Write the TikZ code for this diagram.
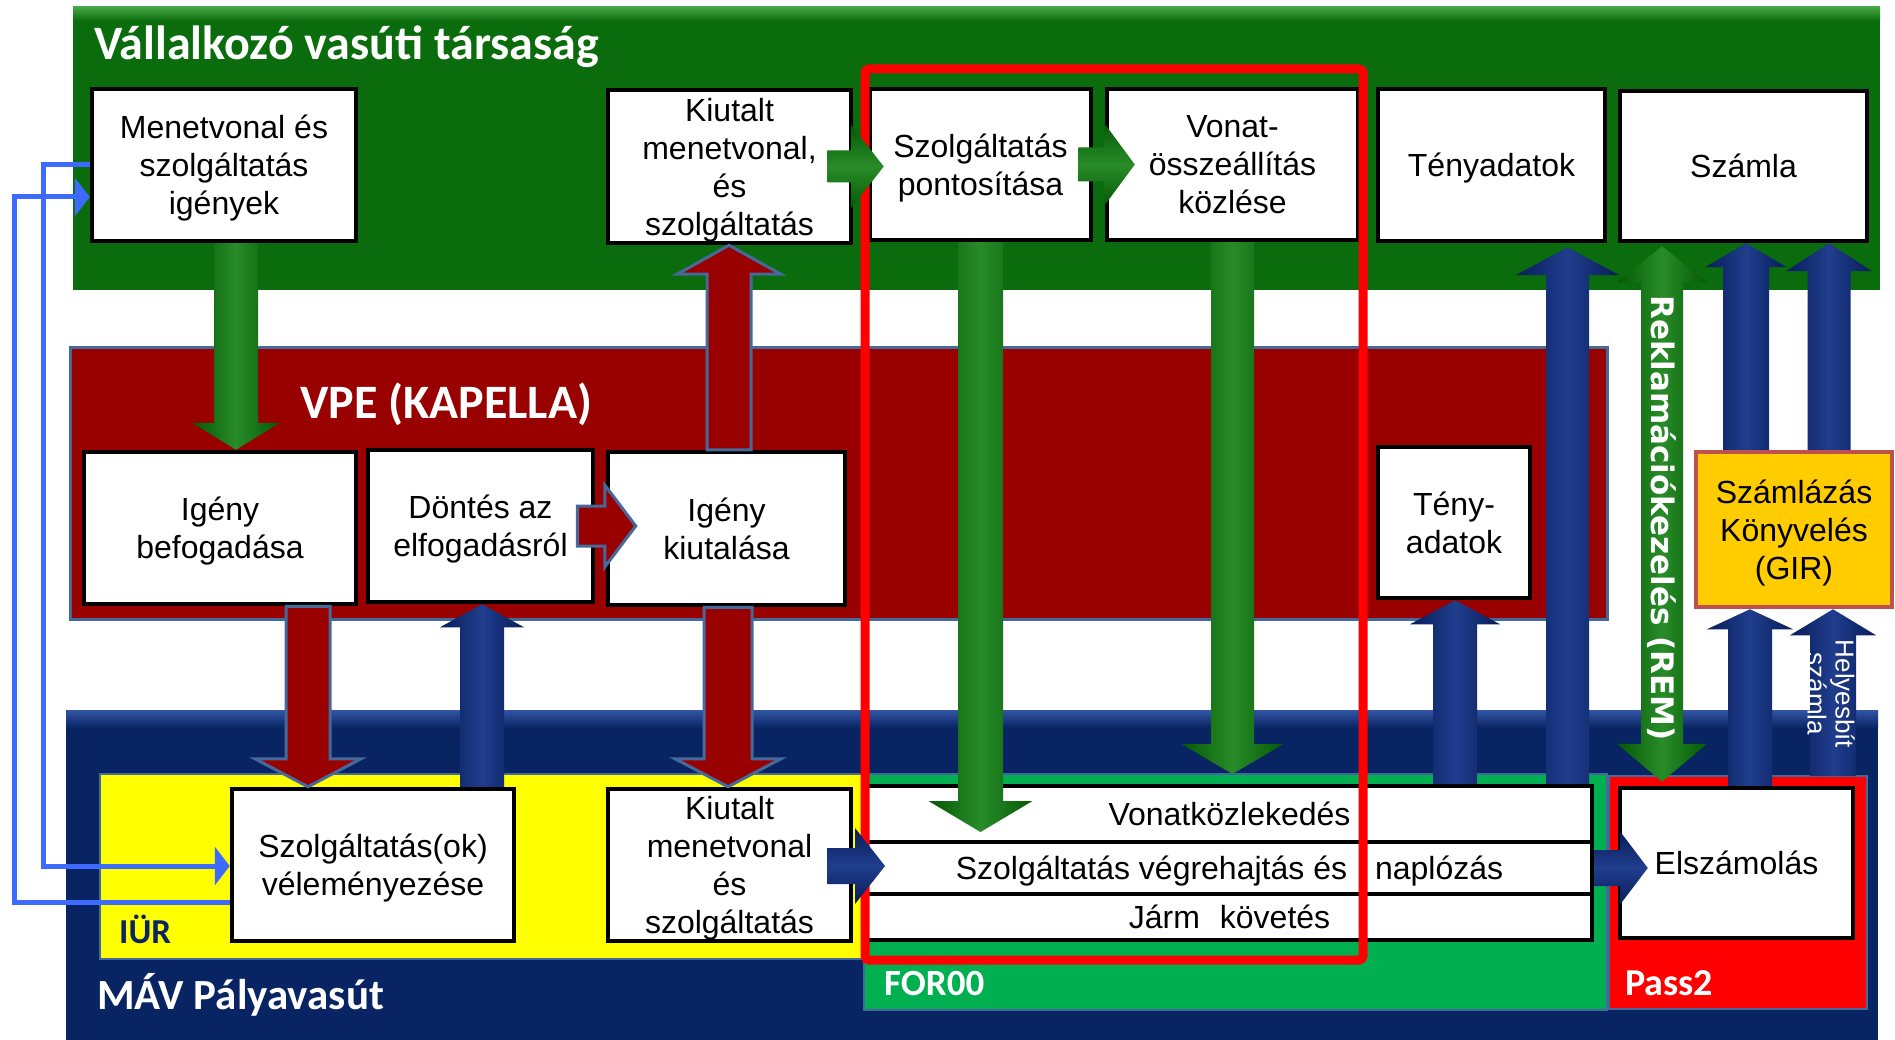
\documentclass[tikz,border=0pt]{standalone}
\usepackage{fontspec}
\setmainfont{Liberation Sans}
\newfontfamily\calibf{Carlito}
\newfontfamily\dejaf{DejaVu Sans}
\usetikzlibrary{arrows.meta,calc}
\definecolor{vtsgreen}{RGB}{10,108,12}
\definecolor{vtslight}{RGB}{70,165,70}
\definecolor{vpered}{RGB}{153,0,0}
\definecolor{mavnavy}{RGB}{9,36,98}
\definecolor{mavlight}{RGB}{50,85,165}
\definecolor{iuryellow}{RGB}{255,255,0}
\definecolor{forgreen}{RGB}{0,176,80}
\definecolor{passred}{RGB}{255,0,0}
\definecolor{girgold}{RGB}{255,204,0}
\definecolor{girborder}{RGB}{192,80,77}
\definecolor{steel}{RGB}{70,105,155}
\definecolor{blueline}{RGB}{61,107,255}
\definecolor{gdark}{RGB}{6,88,6}
\definecolor{glight}{RGB}{40,140,40}
\definecolor{ndark}{RGB}{8,28,88}
\definecolor{nlight}{RGB}{32,62,142}
\newcommand\vblk[6]{%
  \path[#1] let \p1=(#2), \p2=(#3), \n1={sign(\y2-\y1)} in
    ({\x1-#4pt},\y1) -- ({\x1-#4pt},{\y2-(\n1)*#6pt}) -- ({\x1-#5pt},{\y2-(\n1)*#6pt}) -- (\x1,\y2)
    -- ({\x1+#5pt},{\y2-(\n1)*#6pt}) -- ({\x1+#4pt},{\y2-(\n1)*#6pt}) -- ({\x1+#4pt},\y1) -- cycle;}
\newcommand\hblk[6]{%
  \path[#1] let \p1=(#2), \p2=(#3), \n1={sign(\x2-\x1)} in
    (\x1,{\y1+#4pt}) -- ({\x2-(\n1)*#6pt},{\y1+#4pt}) -- ({\x2-(\n1)*#6pt},{\y1+#5pt}) -- (\x2,\y1)
    -- ({\x2-(\n1)*#6pt},{\y1-#5pt}) -- ({\x2-(\n1)*#6pt},{\y1-#4pt}) -- (\x1,{\y1-#4pt}) -- cycle;}
\begin{document}
\begin{tikzpicture}[x=1pt,y=-1pt,
 panel/.style={inner sep=0pt, outer sep=0pt},
 wbox/.style={draw=black, line width=4.5pt, fill=white, inner sep=1pt, align=center, text=black, text depth=-2pt, font=\fontsize{32}{38}\selectfont},
 barbox/.style={wbox, line width=4pt},
 ptitle/.style={anchor=base west, text=white, inner sep=0pt, font=\calibf\bfseries\fontsize{48}{52}\selectfont},
 garrow/.style={left color=gdark, right color=gdark, middle color=glight},
 ghor/.style={top color=gdark, bottom color=gdark, middle color=glight},
 narrow/.style={left color=ndark, right color=ndark, middle color=nlight},
 nhor/.style={top color=ndark, bottom color=ndark, middle color=nlight},
 rarrow/.style={fill=vpered, draw=steel, line width=3pt},
 bline/.style={draw=blueline, line width=5pt, -{Triangle[length=15pt,width=38pt]}},
]
\useasboundingbox (0,0) rectangle (1895,1040);
\fill[white] (0,0) rectangle (1895,1040);
% panels
\node[panel, fill=vtsgreen, minimum width=1807pt, minimum height=283pt] (vts) at (976.5,148.5) {};
\path[top color=vtslight, bottom color=vtsgreen] (vts.north west) rectangle ([yshift=-14pt]vts.north east);
\node[panel, fill=vpered, draw=steel, line width=3pt, minimum width=1537pt, minimum height=271pt] (vpe) at (838.5,483.5) {};
\node[panel, fill=mavnavy, minimum width=1812pt, minimum height=340pt] (mav) at (972,880) {};
\path[top color=mavlight, bottom color=mavnavy] (mav.north west) rectangle ([yshift=-18pt]mav.north east);
\node[panel, fill=iuryellow, draw=steel, line width=2.5pt, minimum width=764pt, minimum height=185pt] (iur) at (482,866.5) {};
\node[panel, fill=forgreen, draw=steel, line width=2.5pt, minimum width=743pt, minimum height=236pt] (for) at (1235.5,892) {};
\node[panel, fill=passred, draw=steel, line width=2.5pt, minimum width=258pt, minimum height=233pt] (pass) at (1738,892.5) {};
% titles
\node[ptitle] (tvts) at (94,60) {Vállalkozó vasúti társaság};
\node[ptitle] (tvpe) at (300,418) {VPE (KAPELLA)};
\node[ptitle, font=\calibf\bfseries\fontsize{43}{46}\selectfont] (tmav) at (97,1009) {MÁV Pályavasút};
\node[ptitle, text=mavnavy, font=\calibf\bfseries\fontsize{35}{38}\selectfont] (tiur) at (119,943) {IÜR};
\node[ptitle, font=\calibf\bfseries\fontsize{37}{40}\selectfont] (tfor) at (884,995) {FOR00};
\node[ptitle, font=\calibf\bfseries\fontsize{38}{41}\selectfont] (tpass) at (1625,995) {Pass2};
% boxes
\node[wbox, minimum width=264pt, minimum height=152pt] (menet) at (224,165) {Menetvonal és\\szolgáltatás\\igények};
\node[wbox, minimum width=243pt, minimum height=153pt] (kiut1) at (729.5,166.5) {Kiutalt\\menetvonal,\\és\\szolgáltatás};
\node[wbox, minimum width=221pt, minimum height=151pt] (szpont) at (980.5,164.5) {Szolgáltatás\\pontosítása};
\node[wbox, minimum width=251pt, minimum height=151pt] (vonat) at (1232.5,164.5) {Vonat-\\összeállítás\\közlése};
\node[wbox, minimum width=227pt, minimum height=152pt] (teny1) at (1491.5,165) {Tényadatok};
\node[wbox, minimum width=247pt, minimum height=150pt] (szamla) at (1743.5,166) {Számla};
\node[wbox, minimum width=272pt, minimum height=152pt] (igbef) at (220,528) {Igény\\befogadása};
\node[wbox, minimum width=225pt, minimum height=152pt] (dontes) at (480.5,526) {Döntés az\\elfogadásról};
\node[wbox, minimum width=237pt, minimum height=153pt] (igkiut) at (726.5,528.5) {Igény\\kiutalása};
\node[wbox, minimum width=152pt, minimum height=151pt] (teny2) at (1454,522.5) {Tény-\\adatok};
\node[wbox, draw=girborder, fill=girgold, minimum width=196pt, minimum height=155pt] (gir) at (1794,529.5) {Számlázás\\Könyvelés\\(GIR)};
\node[wbox, minimum width=282pt, minimum height=152pt] (velem) at (373,865) {Szolgáltatás(ok)\\véleményezése};
\node[wbox, minimum width=243pt, minimum height=152pt] (kiut2) at (729.5,865) {Kiutalt\\menetvonal\\és\\szolgáltatás};
\node[barbox, minimum width=725pt, minimum height=56pt] (bar1) at (1229.5,814) {Vonatközlekedés};
\node[barbox, minimum width=725pt, minimum height=52pt] (bar2) at (1229.5,868) {Szolgáltatás végrehajtás és\hspace{28pt}naplózás};
\node[barbox, minimum width=725pt, minimum height=46pt] (bar3) at (1229.5,917) {Járm\hspace{20pt}követés};
\node[wbox, minimum width=233pt, minimum height=150pt] (elsz) at (1736.5,863) {Elszámolás};
% blue feedback lines
\draw[bline] (menet.west) -- ++(-46,0) |- ([yshift=-1pt]velem.west);
\draw[bline] ([yshift=-37pt]velem.west) -- ++(-215,0) |- ([yshift=-32pt]menet.west);
% red focus frame
\node[draw=passred, line width=9pt, rounded corners=4pt, minimum width=498pt, minimum height=891pt, inner sep=0pt] (focus) at (1114,514.5) {};
% green arrows
\vblk{garrow}{[xshift=12pt]menet.south}{igbef.north}{22}{44}{27}
\vblk{garrow}{szpont.south}{[yshift=-18pt]bar1.center}{22.5}{52}{31}
\vblk{garrow}{vonat.south}{for.north}{21.5}{51}{30}
\hblk{ghor}{[xshift=-26pt]kiut1.east}{[xshift=16pt]szpont.west}{16}{42}{33}
\hblk{ghor}{[xshift=-15pt]szpont.east}{[xshift=30pt]vonat.west}{17}{42}{31}
% red arrows
\vblk{rarrow}{[xshift=2.5pt]igkiut.north}{kiut1.south}{22}{52}{29}
\vblk{rarrow}{[xshift=88pt]igbef.south}{velem.north}{22}{53}{28}
\vblk{rarrow}{[xshift=1.5pt]igkiut.south}{kiut2.north}{24}{53}{28}
\hblk{rarrow}{[xshift=-18pt]dontes.east}{[xshift=30pt]igkiut.west}{20}{41}{31}
% navy arrows
\vblk{narrow}{[xshift=338pt]bar1.north}{[yshift=-4pt]teny1.south}{21.5}{52}{28}
\vblk{narrow}{[xshift=225.5pt]bar1.north}{teny2.south}{22}{45}{24}
\vblk{narrow}{[xshift=109pt]velem.north}{dontes.south}{22}{42}{23}
\vblk{narrow}{[xshift=13.5pt]elsz.north}{gir.south}{22}{43}{20}
\vblk{narrow}{[xshift=-48pt]gir.north}{szamla.south}{23}{41}{24}
\vblk{narrow}{[xshift=95pt]pass.north}{gir.south}{23}{43}{26}
\vblk{narrow}{[xshift=35pt]gir.north}{szamla.south}{21.5}{43}{28}
\hblk{nhor}{[xshift=-26pt,yshift=-1pt]kiut2.east}{[xshift=20pt]bar2.west}{18}{38}{30}
\hblk{nhor}{bar2.east}{[xshift=30pt]elsz.west}{18}{37}{28}
% REM double arrow
\coordinate (remtop) at ([xshift=-81.5pt,yshift=-3pt]szamla.south);
\coordinate (rembot) at ([xshift=-74.5pt,yshift=4pt]elsz.north);
\path[garrow] let \p1=(remtop), \p2=(rembot) in
  (\x1,\y1) -- ({\x1+45pt},{\y1-36pt}) -- ({\x1+21pt},{\y1-36pt}) -- ({\x1+21pt},{\y2+38pt})
  -- ({\x1+45pt},{\y2+38pt}) -- (\x1,\y2) -- ({\x1-45pt},{\y2+38pt}) -- ({\x1-21pt},{\y2+38pt})
  -- ({\x1-21pt},{\y1-36pt}) -- ({\x1-45pt},{\y1-36pt}) -- cycle;
\node[rotate=-90, text=white, inner sep=0pt, font=\dejaf\bfseries\fontsize{31}{34}\selectfont] (remtxt) at ([yshift=-4pt]$(remtop)!0.5!(rembot)$) {Reklamációkezelés (REM)};
\node[rotate=-90, text=white, align=center, inner sep=0pt, font=\fontsize{26}{28}\selectfont] (helyes) at (1831,694) {Helyesbít\\számla};
\end{tikzpicture}
\end{document}
